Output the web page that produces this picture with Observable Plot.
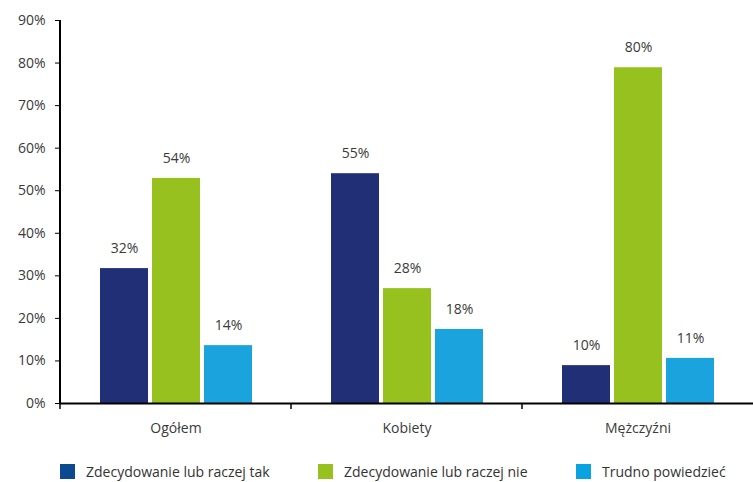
<!DOCTYPE html>
<html><head><meta charset="utf-8">
<script src="https://cdn.jsdelivr.net/npm/d3@7"></script>
<script src="https://cdn.jsdelivr.net/npm/@observablehq/plot@0.6"></script>
<style>
body{margin:0;background:#fff;font-family:"Open Sans",sans-serif;}
#legend{position:relative;height:32px;width:753px;}
.item{position:absolute;top:12px;display:flex;align-items:center;font-size:14px;color:#333;white-space:nowrap;}
.sw{width:15px;height:15px;margin-right:11px;}
</style></head><body><div id="chart"></div><div id="legend"></div>
<script>
const categories = ["Ogółem", "Kobiety", "Mężczyźni"];
const series = ["Zdecydowanie lub raczej tak", "Zdecydowanie lub raczej nie", "Trudno powiedzieć"];
const takValues = [31.7, 54.0, 8.9];
const nieValues = [52.9, 27.0, 78.9];
const trudnoValues = [13.6, 17.4, 10.6];
const takLabels = ["32%", "55%", "10%"];
const nieLabels = ["54%", "28%", "80%"];
const trudnoLabels = ["14%", "18%", "11%"];
const yTicks = [0, 10, 20, 30, 40, 50, 60, 70, 80, 90];
const barColors = ["#212f77", "#97c11f", "#1aa3dc"];
const legendColors = ["#0b4a91", "#97c11f", "#0aa3e0"];

const values = [takValues, nieValues, trudnoValues];
const labels = [takLabels, nieLabels, trudnoLabels];
const data = categories.flatMap((c, i) => series.map((s, j) => ({category: c, series: s, value: values[j][i], label: labels[j][i]})));

const chart = Plot.plot({
  width: 753, height: 450,
  marginLeft: 60, marginRight: 0, marginTop: 20, marginBottom: 47,
  style: {fontFamily: "'Open Sans', sans-serif", fontSize: "14px", color: "#333", background: "white", overflow: "visible"},
  fx: {domain: categories, padding: 0, label: null},
  x: {domain: series, paddingInner: 0.08, paddingOuter: 0.76, axis: null},
  y: {domain: [0, 90], label: null},
  color: {domain: series, range: barColors},
  marks: [
    Plot.axisY({ticks: yTicks, tickFormat: d => d + "%", tickSize: 5, tickPadding: 10, stroke: "black", fill: "#3a3a3a", fontSize: 14, label: null}),
    Plot.axisFx({anchor: "bottom", tickSize: 0, tickPadding: 20, fill: "#3a3a3a", fontSize: 14, label: null}),
    Plot.barY(data, {fx: "category", x: "series", y: "value", fill: "series"}),
    Plot.text(data, {fx: "category", x: "series", y: "value", text: "label", dy: -20, fill: "#3a3a3a", fontSize: 14}),
    Plot.ruleY([0], {stroke: "black", strokeWidth: 2})
  ]
});
document.getElementById("chart").appendChild(chart);

const svg = d3.select(chart);
const fx = chart.scale("fx"), y = chart.scale("y");
const y0 = y.apply(0), yTop = y.apply(90);
const xLeft = fx.apply(categories[0]);
svg.append("line").attr("x1", xLeft).attr("x2", xLeft).attr("y1", yTop).attr("y2", y0)
  .attr("stroke", "black").attr("stroke-width", 2);
categories.forEach(c => {
  const xb = fx.apply(c);
  svg.append("line").attr("x1", xb).attr("x2", xb).attr("y1", y0).attr("y2", y0 + 6)
    .attr("stroke", "black").attr("stroke-width", 1.5);
});

const legend = d3.select("#legend");
series.forEach((s, i) => {
  const item = legend.append("div").attr("class", "item").style("left", (xLeft + 258 * i) + "px");
  item.append("div").attr("class", "sw").style("background", legendColors[i]);
  item.append("span").text(s);
});
</script></body></html>
